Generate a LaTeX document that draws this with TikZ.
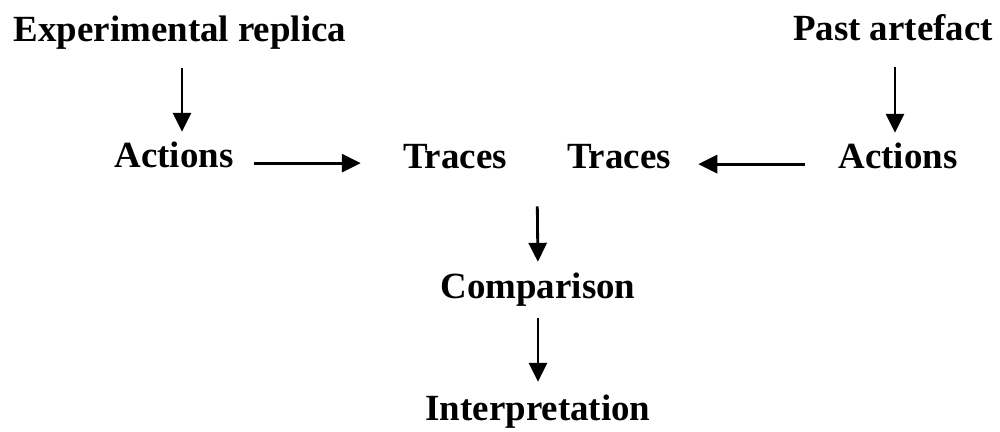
\documentclass[tikz,border=0pt]{standalone}
\usepackage{fontspec}
\setmainfont{Liberation Serif}
\usetikzlibrary{calc,arrows.meta}

\begin{document}
\begin{tikzpicture}[
    x=0.02cm, y=-0.02cm,
    lbl/.style={inner sep=0pt, anchor=base, text height=14.7pt, text depth=4.6pt, font=\fontsize{21}{25}\selectfont\bfseries},
    arrow/.style={-{Triangle[length=0.38cm, width=0.36cm]}, line width=1.6pt}
]
    \useasboundingbox (0,0) rectangle (1000,432);

    % Sources
    \node[lbl] (replica) at (180, 42) {Experimental replica};
    \node[lbl] (past) at (893, 41) {Past artefact};

    % Actions and traces
    \node[lbl] (actL) at (174, 168) {Actions};
    \node[lbl] (traceL) at (455, 169) {Traces};
    \node[lbl] (traceR) at (619, 169) {Traces};
    \node[lbl] (actR) at (898, 169) {Actions};

    % Result
    \node[lbl] (comp) at (538, 298) {Comparison};
    \node[lbl] (interp) at (538, 420) {Interpretation};

    \draw[arrow, shorten <=0.36cm, shorten >=0.2cm] ([xshift=0.04cm]replica.south) -- ([xshift=0.04cm]replica.south |- actL.north);
    \draw[arrow, shorten <=0.36cm, shorten >=0.2cm] ([xshift=0.04cm]past.south) -- ([xshift=0.04cm]past.south |- actR.north);
    \draw[arrow, shorten <=0.4cm, shorten >=0.84cm] ([yshift=-0.08cm]actL.east) -- ([yshift=-0.08cm]actL.east -| traceL.west);
    \draw[arrow, shorten <=0.66cm, shorten >=0.54cm] ([yshift=-0.08cm]actR.west) -- ([yshift=-0.08cm]actR.west -| traceR.east);
    \draw[arrow, shorten <=0.58cm, shorten >=0.2cm] ($(traceL.south)!0.5!(traceR.south)$) -- (comp.north);
    \draw[arrow, shorten <=0.24cm, shorten >=0.24cm] (comp.south) -- (interp.north);
\end{tikzpicture}
\end{document}
